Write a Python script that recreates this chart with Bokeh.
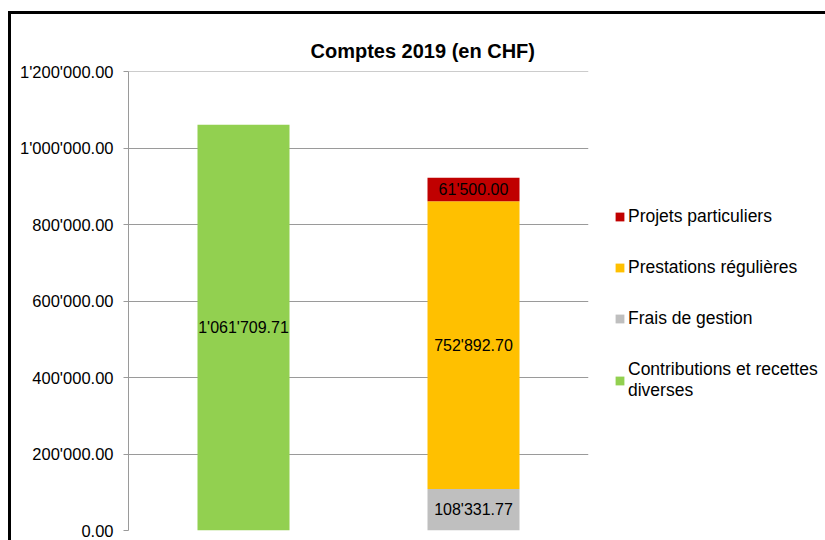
from bokeh.plotting import figure
from bokeh.models import (ColumnDataSource, FactorRange, Range1d, Legend, LegendItem,
                          CustomJSTickFormatter, LabelSet, SingleIntervalTicker)
from bokeh.core.properties import value
from bokeh.embed import file_html
from bokeh.resources import INLINE

# ---- data ----
categories = ["Recettes", "Charges"]
contributions = [1061709.71, 0.0]
frais = [0.0, 108331.77]
prestations = [0.0, 752892.70]
projets = [0.0, 61500.00]
series_names = ["Contributions et recettes diverses", "Frais de gestion",
                "Prestations régulières", "Projets particuliers"]
series_keys = ["contrib", "frais", "prest", "proj"]
colors = ["#92D050", "#BFBFBF", "#FFC000", "#C00000"]
title_text = "Comptes 2019 (en CHF)"


def fmt(v):
    s = f"{v:,.2f}"
    return s.replace(",", "'")


src = ColumnDataSource(dict(x=categories, contrib=contributions, frais=frais,
                            prest=prestations, proj=projets))

p = figure(x_range=FactorRange(*categories, range_padding=0), y_range=Range1d(0, 1201000),
           frame_width=460, frame_height=459, output_backend="svg", toolbar_location=None,
           min_border_left=117, min_border_right=237, min_border_top=57, min_border_bottom=10)
p.styles = {"border-left": "3px solid black", "border-top": "3px solid black",
            "margin-left": "8px", "margin-top": "11px"}
p.outline_line_color = None
p.x_range.factor_padding = 0

renderers = p.vbar_stack(series_keys, x="x", width=0.4, source=src, color=colors,
                         line_color=None)

# labels
lab_x, lab_y, lab_t = [], [], []
for i, c in enumerate(categories):
    base = 0.0
    for arr in (contributions, frais, prestations, projets):
        v = arr[i]
        if v > 0:
            lab_x.append(c)
            lab_y.append(base + v / 2)
            lab_t.append(fmt(v))
        base += v
lsrc = ColumnDataSource(dict(x=lab_x, y=lab_y, t=lab_t))
p.add_layout(LabelSet(x="x", y="y", text="t", source=lsrc, text_align="center",
                      text_baseline="middle", text_font=value("Liberation Sans"),
                      text_font_size=value("16px"), text_color="#000000"))

# axes
p.xaxis.visible = False
p.xgrid.visible = False
p.yaxis.ticker = SingleIntervalTicker(interval=200000)
p.yaxis.formatter = CustomJSTickFormatter(code="""
const s = tick.toFixed(2); const parts = s.split('.');
return parts[0].replace(/\\B(?=(\\d{3})+(?!\\d))/g, "'") + '.' + parts[1];
""")
p.yaxis.major_label_text_font = "Liberation Sans"
p.yaxis.major_label_text_font_size = "16.5px"
p.yaxis.major_label_text_color = "#000000"
p.yaxis.axis_line_color = "#9a9a9a"
p.yaxis.major_tick_line_color = "#9a9a9a"
p.yaxis.major_tick_out = 5
p.yaxis.major_tick_in = 0
p.yaxis.minor_tick_line_color = None
p.yaxis.major_label_standoff = 10
p.ygrid.grid_line_color = "#9a9a9a"
p.ygrid.grid_line_width = 1

# title
p.title.text = title_text
p.title.align = "left"
p.title.offset = 182
p.title.text_font = "Liberation Sans"
p.title.text_font_size = "20px"
p.title.text_font_style = "bold"
p.title.text_color = "#000000"
p.title.standoff = 20

# legend
items = [LegendItem(label=series_names[k].replace("recettes ", "recettes\n"), renderers=[renderers[k]])
         for k in [3, 2, 1, 0]]
legend = Legend(items=items, location=(26, 129), orientation="vertical",
                label_text_font="Liberation Sans", label_text_font_size="17.5px",
                label_text_color="#000000",
                glyph_width=11, glyph_height=11, spacing=30, padding=0, margin=0,
                border_line_color=None, background_fill_alpha=0, label_standoff=3)
p.add_layout(legend, "right")

open("out.html", "w").write(file_html(p, INLINE))
